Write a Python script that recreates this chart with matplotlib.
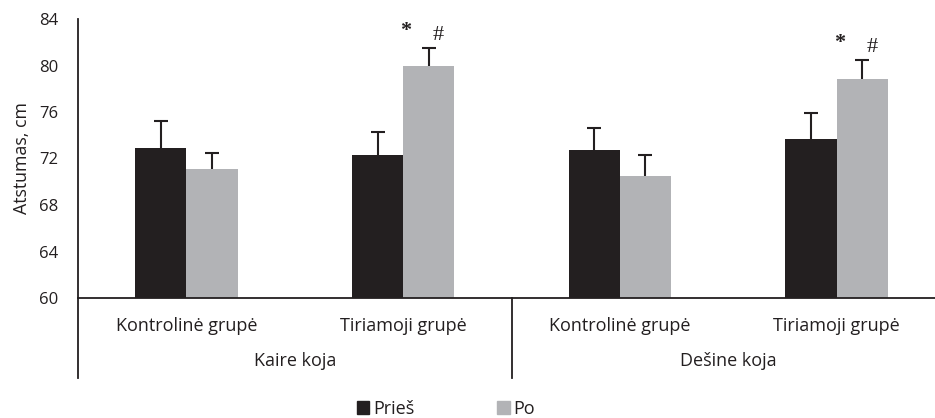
import matplotlib
matplotlib.use("Agg")
import matplotlib.pyplot as plt
from matplotlib.lines import Line2D
from matplotlib.patches import Patch

plt.rcParams['font.family'] = ['Open Sans', 'DejaVu Sans']

groups = ["Kontrolinė grupė", "Tiriamoji grupė", "Kontrolinė grupė", "Tiriamoji grupė"]
legs = ["Kaire koja", "Dešine koja"]
pries = [72.9, 72.3, 72.7, 73.7]
pries_err = [2.3, 2.0, 1.9, 2.2]
po = [71.1, 80.0, 70.5, 78.8]
po_err = [1.4, 1.5, 1.8, 1.7]
marks = [None, ("*", "#"), None, ("*", "#")]

dark = "#231f20"
grey = "#b2b3b6"
W, H = 935, 418

fig = plt.figure(figsize=(W / 100, H / 100), dpi=100)
ax = fig.add_axes([78 / W, (H - 298) / H, (945 - 78) / W, (298 - 19) / H])

x = list(range(len(groups)))
w = 0.236
for off, vals, errs, col in [(-w / 2, pries, pries_err, dark), (w / 2, po, po_err, grey)]:
    xs = [i + off for i in x]
    ax.bar(xs, [v - 60 for v in vals], w, bottom=60, color=col)
    # upper half of the error bar only
    _, caps, _ = ax.errorbar(xs, vals, yerr=[[0] * len(vals), errs], fmt="none",
                             ecolor=dark, elinewidth=1.5, capsize=5, capthick=1.5)
    caps[0].set_visible(False)

# significance marks over the "Po" bars
for i, m in enumerate(marks):
    if m is None:
        continue
    top = po[i] + po_err[i]
    ax.text(i + w / 2 - 0.105, top + 1.45, m[0], ha="center", va="center", fontsize=16,
            family="Liberation Serif", weight="bold", color=dark)
    ax.text(i + w / 2 + 0.045, top + 1.05, m[1], ha="center", va="center", fontsize=16,
            family="Liberation Serif", color=dark)

ax.set_xlim(-0.5, 3.5)
ax.set_ylim(60, 84)
ax.set_yticks(range(60, 85, 4))
ax.set_xticks([])
ax.tick_params(axis="y", length=0, labelsize=12, pad=14, labelcolor=dark)
ax.set_ylabel("Atstumas, cm", fontsize=12.8, labelpad=6, color=dark)
for s in ["top", "right"]:
    ax.spines[s].set_visible(False)
for s in ["left", "bottom"]:
    ax.spines[s].set_color(dark)
    ax.spines[s].set_linewidth(1.3)

# two-level category axis
px = 1 / (298 - 19)
low = -(378 - 298) * px
tr = ax.get_xaxis_transform()
for i, g in enumerate(groups):
    ax.text(i, -(326 - 298) * px, g, transform=tr, ha="center", va="center", fontsize=13, color=dark)
for j, lab in enumerate(legs):
    ax.text(0.5 + 2 * j, -(361 - 298) * px, lab, transform=tr, ha="center", va="center", fontsize=13, color=dark)
for xv in [-0.5, 1.5]:
    ax.add_line(Line2D([xv, xv], [0, low], transform=tr, color=dark, lw=1.3, clip_on=False))

handles = [Patch(color=dark), Patch(color=grey)]
fig.legend(handles, ["Prieš", "Po"], loc="center", bbox_to_anchor=(446 / W, 1 - 409 / H),
           ncol=2, frameon=False, fontsize=13, handlelength=0.7, handleheight=0.7,
           handletextpad=0.2, columnspacing=4.6, labelcolor=dark)

fig.savefig("out.png", dpi=100)
